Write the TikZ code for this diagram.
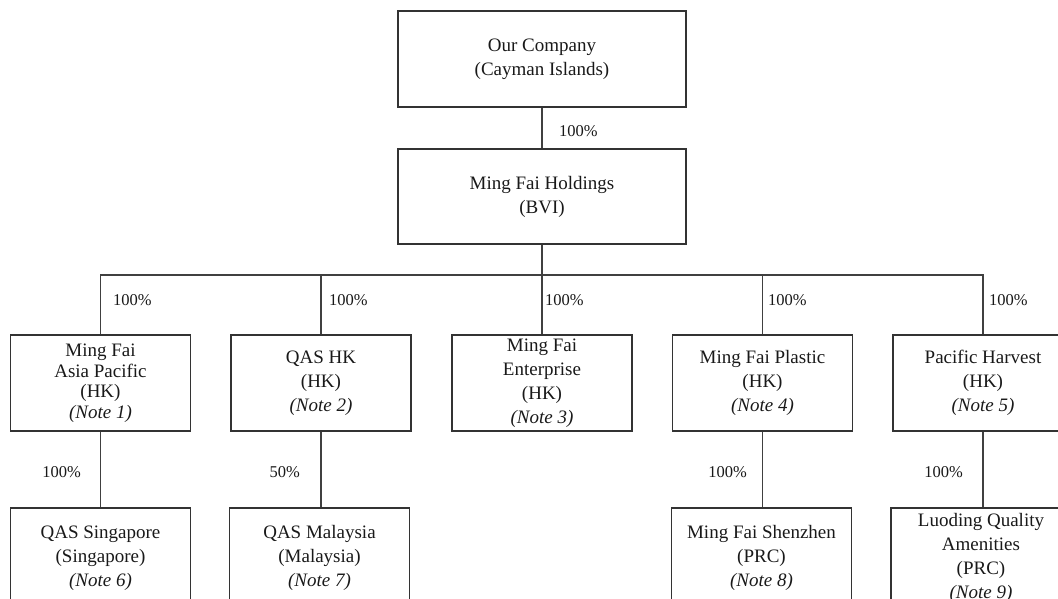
\documentclass[tikz,border=0pt]{standalone}
\usepackage{fontspec}
\setmainfont{Liberation Serif}
\begin{document}
\begin{tikzpicture}[x=1pt,y=-1pt,
  box/.style={draw=black!80, line width=1.2pt, rectangle, minimum width=180pt,
    minimum height=96pt, inner sep=0pt, align=center,
    font=\fontsize{19}{24}\selectfont, text=black!90},
  conn/.style={draw=black!75, line width=1.2pt},
  pct/.style={font=\fontsize{16.5}{20}\selectfont, inner sep=0pt, text=black!90}]
\useasboundingbox (0,0) rectangle (1058,599);
\clip (0,0) rectangle (1058,599);

% boxes
\node[box, minimum width=288pt] (top) at (542,59) {Our Company\\(Cayman Islands)};
\node[box, minimum width=288pt, minimum height=95pt] (hold) at (542,196.5) {Ming Fai Holdings\\(BVI)};

\node[box, font=\fontsize{19}{20.5}\selectfont] (b1) at (100.5,383) {Ming Fai\\Asia Pacific\\(HK)\\\textit{(Note 1)}};
\node[box] (b2) at (321,383) {QAS HK\\(HK)\\\textit{(Note 2)}};
\node[box] (b3) at (542,383) {Ming Fai\\Enterprise\\(HK)\\\textit{(Note 3)}};
\node[box] (b4) at (762.5,383) {Ming Fai Plastic\\(HK)\\\textit{(Note 4)}};
\node[box] (b5) at (983,383) {Pacific Harvest\\(HK)\\\textit{(Note 5)}};

\node[box, minimum height=100pt] (b6) at (100.5,558) {QAS Singapore\\(Singapore)\\\textit{(Note 6)}};
\node[box, minimum height=100pt] (b7) at (319.5,558) {QAS Malaysia\\(Malaysia)\\\textit{(Note 7)}};
\node[box, minimum height=100pt] (b8) at (761.5,558) {Ming Fai Shenzhen\\(PRC)\\\textit{(Note 8)}};
\node[box, minimum height=100pt] (b9) at (981,558) {Luoding Quality\\Amenities\\(PRC)\\\textit{(Note 9)}};

% connectors
\coordinate (busy) at (0,275);
\draw[conn] (top.south) -- (hold.north);
\foreach \c in {b1,b2,b3,b4,b5}
  \draw[conn] (hold.south) |- (\c.north |- busy) -- (\c.north);
\draw[conn] (b1.south) -- (b1.south |- b6.north);
\draw[conn] (b2.south) -- (b2.south |- b7.north);
\draw[conn] (b4.south) -- (b4.south |- b8.north);
\draw[conn] (b5.south) -- (b5.south |- b9.north);

% percentage labels
\node[pct, anchor=west] (p0) at (559,131) {100\%};
\node[pct, anchor=west] (p1) at (113,300) {100\%};
\node[pct, anchor=west] (p2) at (329,300) {100\%};
\node[pct, anchor=west] (p3) at (545,300) {100\%};
\node[pct, anchor=west] (p4) at (768,300) {100\%};
\node[pct, anchor=west] (p5) at (989,300) {100\%};
\node[pct, anchor=east] (p6) at (81,472) {100\%};
\node[pct, anchor=east] (p7) at (300,472) {50\%};
\node[pct, anchor=east] (p8) at (747,472) {100\%};
\node[pct, anchor=east] (p9) at (963,472) {100\%};
\end{tikzpicture}
\end{document}
